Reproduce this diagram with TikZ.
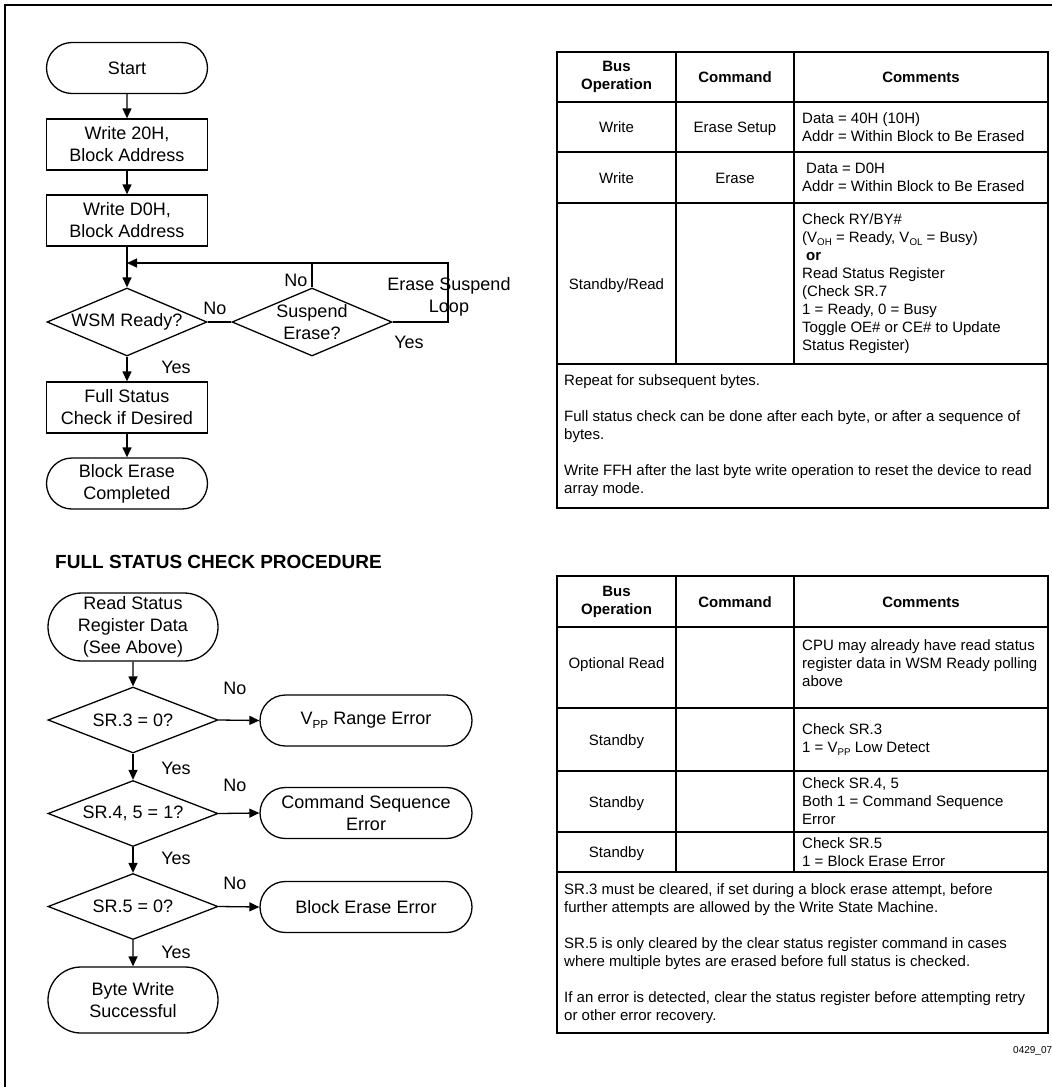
\documentclass[tikz,border=0pt]{standalone}
\usepackage{fontspec}
\usepackage{graphicx}
\setmainfont{Liberation Sans}
\usetikzlibrary{shapes.geometric,shapes.misc,arrows.meta}
\newcommand{\subtx}[1]{\raisebox{-0.4ex}{\scalebox{0.65}{#1}}}
\begin{document}
\begin{tikzpicture}[x=1pt,y=-1pt,
  fc/.style={font=\fontsize{18}{22}\selectfont, align=center, inner sep=0pt},
  lbl/.style={font=\fontsize{18}{22}\selectfont, inner sep=0pt, anchor=base},
  tb/.style={font=\fontsize{15}{18}\selectfont, inner sep=0pt},
  tbc/.style={tb, anchor=base},
  tbl/.style={tb, align=left, anchor=west},
  tbh/.style={font=\fontsize{15}{18}\selectfont\bfseries, inner sep=0pt, align=center},
  proc/.style={draw, line width=1.3pt, rectangle, minimum width=161pt, minimum height=51pt, inner sep=0pt, fc},
  term/.style={draw, line width=1.3pt, rounded rectangle, minimum width=161pt, minimum height=51pt, inner sep=0pt, fc},
  dia/.style={draw, line width=1.3pt, diamond, inner sep=0pt},
  conn/.style={line width=1.3pt},
  arr/.style={conn, -{Triangle[length=10pt,width=9pt]}},
  tabline/.style={line width=1.6pt}
]
\useasboundingbox (0,0) rectangle (1052,1087);
% outer frame
\draw[line width=2pt] (5,1095) -- (5,5) -- (1060,5);

% ===== top flowchart =====
\node[term] (start) at (127,68) {Start};
\node[proc] (w20) at (127,144.5) {Write 20H,\\Block Address};
\node[proc] (wd0) at (127,220.5) {Write D0H,\\Block Address};
\node[dia, minimum width=160pt, minimum height=68pt] (wsm) at (127,322) {};
\node[fc] (wsmt) at (wsm.center) {WSM Ready?};
\node[dia, minimum width=160pt, minimum height=68pt] (susp) at (312,322) {};
\node[fc] (suspt) at (susp.center) {Suspend\\Erase?};
\node[proc] (full) at (127,407.5) {Full Status\\Check if Desired};
\node[term] (done) at (127,483.5) {Block Erase\\Completed};

\node[lbl] (no1) at (215,314.5) {No};
\node[lbl] (no2) at (296,286.5) {No};
\node[lbl] (yes1) at (409,348.5) {Yes};
\node[lbl] (yes2) at (176,373.5) {Yes};
\node[fc] (esl) at (449,296.5) {Erase Suspend\\Loop};

\coordinate (j) at (127,263);
\coordinate (lr) at (448,322);
\coordinate (ur) at (448,263);

\draw[arr] (start) -- (w20);
\draw[arr] (w20) -- (wd0);
\draw[arr] (wd0) -- (wsm);
\draw[conn] (wsm.east) -- (susp.west);
\draw[conn] (susp.north) -- (susp.north |- j);
\draw[arr] (susp.east) -- (lr) -- (ur) -- (j);
\draw[arr] (wsm) -- (full);
\draw[arr] (full) -- (done);

% ===== title =====
\node[font=\fontsize{19}{22}\selectfont\bfseries, anchor=west, inner sep=0pt] (title) at (55,562) {FULL STATUS CHECK PROCEDURE};

% ===== bottom flowchart =====
\node[term, minimum width=170pt, minimum height=68pt] (rsr) at (133,627) {Read Status\\Register Data\\(See Above)};
\node[dia, minimum width=170pt, minimum height=66pt] (sr3) at (133,720) {};
\node[fc] (sr3t) at (sr3.center) {SR.3 = 0?};
\node[term, minimum width=212pt, minimum height=51pt] (vpp) at (366,720.5) {V\subtx{PP} Range Error};
\node[dia, minimum width=170pt, minimum height=66pt] (sr4) at (133,813.5) {};
\node[fc] (sr4t) at (sr4.center) {SR.4, 5 = 1?};
\node[term, minimum width=212pt, minimum height=51pt] (cse) at (366,813) {Command Sequence\\Error};
\node[dia, minimum width=170pt, minimum height=66pt] (sr5) at (133,906.5) {};
\node[fc] (sr5t) at (sr5.center) {SR.5 = 0?};
\node[term, minimum width=212pt, minimum height=51pt] (bee) at (366,907) {Block Erase Error};
\node[term, minimum width=170pt, minimum height=66pt] (bws) at (133,1000) {Byte Write\\Successful};

\node[lbl] (no3) at (235,694.5) {No};
\node[lbl] (no4) at (235,791.5) {No};
\node[lbl] (no5) at (235,889.5) {No};
\node[lbl] (yes3) at (176,774.5) {Yes};
\node[lbl] (yes4) at (176,864.5) {Yes};
\node[lbl] (yes5) at (176,958.5) {Yes};

\draw[arr] (rsr) -- (sr3);
\draw[arr] (sr3) -- (sr4);
\draw[arr] (sr4) -- (sr5);
\draw[arr] (sr5) -- (bws);
\draw[arr] (sr3.east) -- (vpp.west);
\draw[arr] (sr4.east) -- (cse.west);
\draw[arr] (sr5.east) -- (bee.west);

% ===== top table =====
\draw[tabline] (557,52) rectangle (1048,508);
\foreach \yy in {102,152,203,364} \draw[tabline] (557,\yy) -- (1048,\yy);
\draw[tabline] (676,52) -- (676,364);
\draw[tabline] (794,52) -- (794,364);

\node[tbh] (tah1) at (616.5,77) {Bus\\Operation};
\node[tbh] (tah2) at (735,77) {Command};
\node[tbh] (tah3) at (921,77) {Comments};
\node[tbc] (ta11) at (616.5,132.5) {Write};
\node[tbc] (ta12) at (735,132.5) {Erase Setup};
\node[tbl] (ta13) at (802,127) {Data = 40H (10H)\\Addr = Within Block to Be Erased};
\node[tbc] (ta21) at (616.5,183) {Write};
\node[tbc] (ta22) at (735,183) {Erase};
\node[tbl] (ta23) at (802,177.5) {\hspace*{4pt}Data = D0H\\Addr = Within Block to Be Erased};
\node[tbc] (ta31) at (616.5,289) {Standby/Read};
\node[tbl] (ta33) at (802,283.5) {Check RY/BY\#\\(V\subtx{OH} = Ready, V\subtx{OL} = Busy)\\\hspace*{4pt}\textbf{or}\\Read Status Register\\(Check SR.7\\1 = Ready, 0 = Busy\\Toggle OE\# or CE\# to Update\\Status Register)};
\node[tbl] (tan) at (564,436) {Repeat for subsequent bytes.\\[18pt]Full status check can be done after each byte, or after a sequence of\\bytes.\\[18pt]Write FFH after the last byte write operation to reset the device to read\\array mode.};

% ===== bottom table =====
\draw[tabline] (557,576) rectangle (1048,1033);
\foreach \yy in {627,708,771,832,872} \draw[tabline] (557,\yy) -- (1048,\yy);
\draw[tabline] (676,576) -- (676,872);
\draw[tabline] (794,576) -- (794,872);

\node[tbh] (tbh1) at (616.5,602) {Bus\\Operation};
\node[tbh] (tbh2) at (735,602) {Command};
\node[tbh] (tbh3) at (921,602) {Comments};
\node[tbc] (tb11) at (616.5,668.5) {Optional Read};
\node[tbl] (tb13) at (802,663) {CPU may already have read status\\register data in WSM Ready polling\\above};
\node[tbc] (tb21) at (616.5,745) {Standby};
\node[tbl] (tb23) at (802,739.5) {Check SR.3\\1 = V\subtx{PP} Low Detect};
\node[tbc] (tb31) at (616.5,807) {Standby};
\node[tbl] (tb33) at (802,801.5) {Check SR.4, 5\\Both 1 = Command Sequence\\Error};
\node[tbc] (tb41) at (616.5,857.5) {Standby};
\node[tbl] (tb43) at (802,852) {Check SR.5\\1 = Block Erase Error};
\node[tbl] (tbn) at (564,954) {SR.3 must be cleared, if set during a block erase attempt, before\\further attempts are allowed by the Write State Machine.\\[18pt]SR.5 is only cleared by the clear status register command in cases\\where multiple bytes are erased before full status is checked.\\[18pt]If an error is detected, clear the status register before attempting retry\\or other error recovery.};

\node[font=\fontsize{10}{12}\selectfont, anchor=base west, inner sep=0pt] (code) at (1013,1053.5) {0429\_07};
\end{tikzpicture}
\end{document}
